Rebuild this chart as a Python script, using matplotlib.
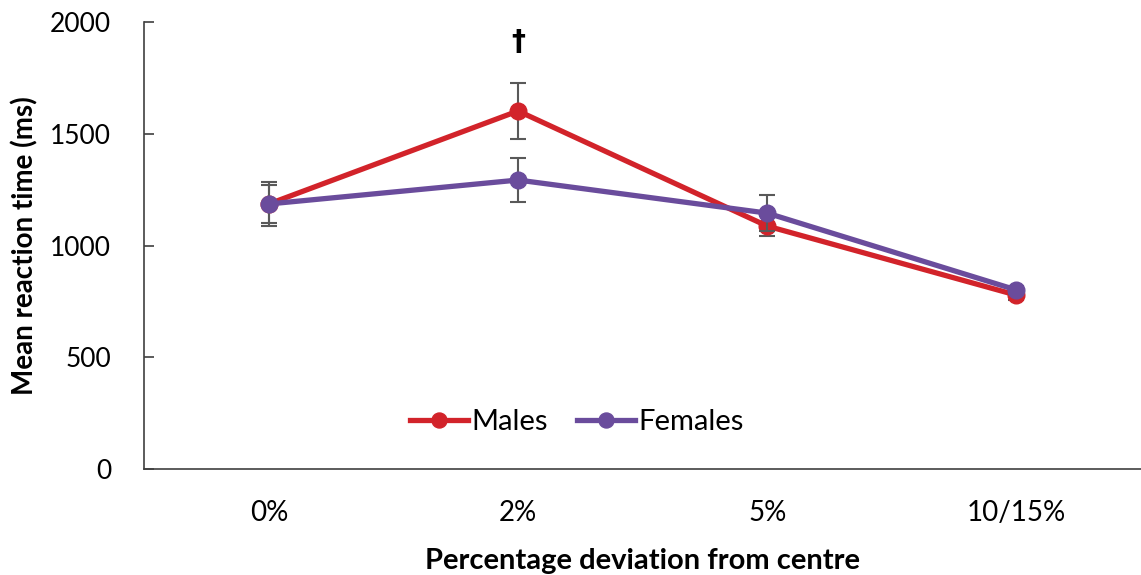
import numpy as np
import matplotlib
matplotlib.use('Agg')
import matplotlib.pyplot as plt

categories = ['0%', '2%', '5%', '10/15%']
males = [1186, 1602, 1087, 778]
males_err = [100, 124, 43, 20]
females = [1186, 1293, 1145, 801]
females_err = [85, 100, 80, 20]

red = '#D2232A'
purple = '#6A4C9C'
err_col = '#595959'

plt.rcParams['font.family'] = ['Lato', 'DejaVu Sans']

fig = plt.figure(figsize=(11.41, 5.75), dpi=100)
ax = fig.add_axes([0.1265, 0.1843, 0.8735, 0.7774])

x = np.arange(len(categories))
ax.errorbar(x, males, yerr=males_err, color=red, ecolor=err_col, elinewidth=1.5,
            capsize=6, capthick=1.5, lw=3.8, marker='o', ms=12, label='Males', zorder=3)
ax.errorbar(x, females, yerr=females_err, color=purple, ecolor=err_col, elinewidth=1.5,
            capsize=6, capthick=1.5, lw=3.8, marker='o', ms=12, label='Females', zorder=4)

ax.text(1, 1910, '\u2020', ha='center', va='center', fontsize=20, fontweight='bold',
        family=['DejaVu Sans'])

ax.set_xlim(-0.5, 3.5)
ax.set_ylim(0, 2000)
ax.set_yticks([0, 500, 1000, 1500, 2000])
ax.set_xticks(x)
ax.set_xticklabels(categories)
ax.tick_params(axis='y', labelsize=19, length=7, width=1.2, direction='in', pad=24,
               color='#404040')
ax.tick_params(axis='x', labelsize=20, length=0, pad=22)
for s in ['top', 'right']:
    ax.spines[s].set_visible(False)
ax.spines['left'].set_color('#404040')
ax.spines['bottom'].set_color('#404040')
ax.spines['left'].set_linewidth(1.2)
ax.spines['bottom'].set_linewidth(1.2)

ax.set_ylabel('Mean reaction time (ms)', fontsize=20, fontweight='bold', labelpad=8)
ax.set_xlabel('Percentage deviation from centre', fontsize=21, fontweight='bold', labelpad=16)

handles, labels = ax.get_legend_handles_labels()
handles = [h[0] for h in handles]
ax.legend(handles, labels, loc='center', bbox_to_anchor=(0.434, 0.105), ncol=2, frameon=False,
          fontsize=21, handlelength=2.0, handletextpad=0.1, columnspacing=1.0, borderpad=0,
          markerscale=0.9)

fig.savefig('out.png', dpi=100)
